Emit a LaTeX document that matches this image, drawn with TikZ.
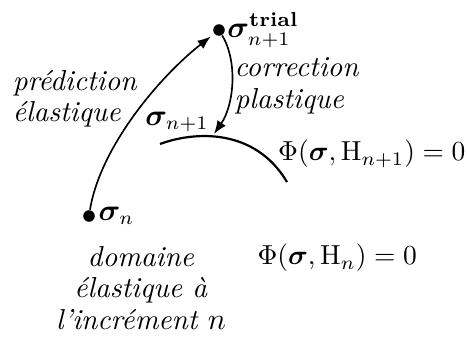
\documentclass[tikz,border=0pt]{standalone}
\usepackage{amsmath}
\usepackage{amssymb}
\usepackage{bm}
\usepackage{tikz}
\usetikzlibrary{arrows.meta, positioning}
\tikzset{
	statept/.style  ={circle, fill=black, inner sep=0pt, minimum size=4.2pt},
	lbl/.style      ={align=left, inner sep=1pt},
	stepflow/.style ={-{Latex[length=1.7mm, width=1.3mm]}, semithick},
	yieldcrv/.style ={thick},
}
\begin{document}
\begin{tikzpicture}[x=0.3636pt, y=-0.3636pt, every node/.style={font=\fontsize{10.5}{12.4}\selectfont}]
	\useasboundingbox (0,0) rectangle (467,338);
	% states
	\node[statept] (sn) at (89,216) {};
	\node[statept] (strial) at (219,30) {};
	\coordinate (snp) at (214,134);
	\node[right=0pt of sn, inner sep=1pt] (snlbl) {$\bm{\sigma}_n$};
	\node[anchor=west, inner sep=1pt] (striallbl) at (224,30) {$\bm{\sigma}^{\textbf{trial}}_{n+1}$};
	\node[inner sep=1pt] (snplbl) at (177,122) {$\bm{\sigma}_{n+1}$};
	% yield surfaces
	\draw[yieldcrv] (160,144) .. controls (195,131) and (255,128) .. (287,182);
	\node[anchor=east, inner sep=0pt, font=\fontsize{10.2}{12}\selectfont] (phinp) at (466,154) {$\Phi(\bm{\sigma},\mathrm{H}_{n+1})=0$};
	\node[anchor=west, inner sep=0pt, font=\fontsize{10.2}{12}\selectfont] (phin) at (257,258) {$\Phi(\bm{\sigma},\mathrm{H}_{n})=0$};
	% steps
	\draw[stepflow, shorten >=1.5pt] (sn) .. controls (100,148) and (158,78) .. (strial);
	\draw[stepflow] (strial) .. controls (238,62) and (234,105) .. (snp);
	\node[lbl] (pred) at (75,99) {\textit{prédiction}\\[-1pt]\textit{élastique}};
	\node[lbl] (corr) at (297,86) {\textit{correction}\\[-1pt]\textit{plastique}};
	\node[align=center, inner sep=1pt] (dom) at (141,288) {\textit{domaine}\\[-1pt]\textit{élastique à}\\[-1pt]\textit{l'incrément $n$}};
\end{tikzpicture}
\end{document}
